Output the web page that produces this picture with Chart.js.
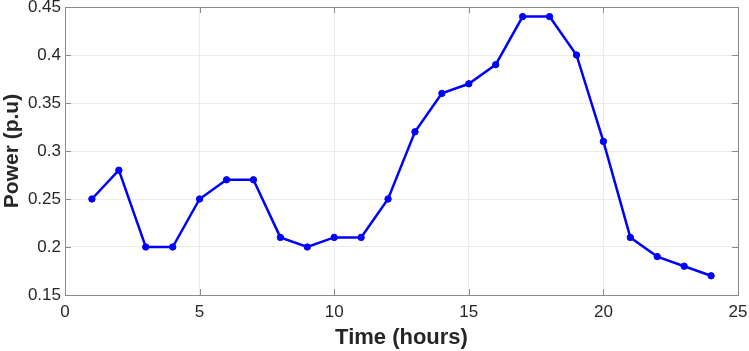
<!DOCTYPE html>
<html><head><meta charset="utf-8">
<script src="https://cdn.jsdelivr.net/npm/chart.js@4"></script>
<style>html,body{margin:0;padding:0;background:#fff}canvas{display:block}</style>
</head><body>
<canvas id="c" width="749" height="351"></canvas>
<script>
const hours = [1,2,3,4,5,6,7,8,9,10,11,12,13,14,15,16,17,18,19,20,21,22,23,24];
const power = [0.25,0.28,0.20,0.20,0.25,0.27,0.27,0.21,0.20,0.21,0.21,0.25,0.32,0.36,0.37,0.39,0.44,0.44,0.40,0.31,0.21,0.19,0.18,0.17];
const xTicks = [0,5,10,15,20,25];
const yTicks = [0.15,0.2,0.25,0.3,0.35,0.4,0.45];
const xTitle = 'Time (hours)';
const yTitle = 'Power (p.u)';

const boxPlugin = {
  id:'box',
  afterDraw(chart){
    const {ctx, chartArea:a, scales} = chart;
    ctx.save();
    ctx.strokeStyle = '#8a8a8a';
    ctx.lineWidth = 1;
    ctx.beginPath();
    xTicks.forEach(v=>{
      const px = Math.round(scales.x.getPixelForValue(v))+0.5;
      ctx.moveTo(px,a.bottom); ctx.lineTo(px,a.bottom-6);
      ctx.moveTo(px,a.top); ctx.lineTo(px,a.top+6);
    });
    yTicks.forEach(v=>{
      const py = Math.round(scales.y.getPixelForValue(v))+0.5;
      ctx.moveTo(a.left,py); ctx.lineTo(a.left+6,py);
      ctx.moveTo(a.right,py); ctx.lineTo(a.right-6,py);
    });
    ctx.stroke();
    ctx.strokeRect(Math.round(a.left)+0.5, Math.round(a.top)+0.5, Math.round(a.right-a.left), Math.round(a.bottom-a.top));
    ctx.restore();
  }
};

const tickFont = {family:'Liberation Sans, Arial', size:17};
const titleFont = {family:'Liberation Sans, Arial', size:21, weight:'bold'};

new Chart(document.getElementById('c'), {
  type:'line',
  data:{ datasets:[{
    data: hours.map((h,i)=>({x:h,y:power[i]})),
    borderColor:'#0000ff', backgroundColor:'#0000ff',
    borderWidth:2.5, pointRadius:3.2, pointBorderWidth:1, tension:0
  }]},
  options:{
    responsive:false, animation:false,
    layout:{padding:{left:0,right:11,top:7,bottom:0}},
    plugins:{legend:{display:false}, tooltip:{enabled:false}},
    scales:{
      x:{type:'linear', min:0, max:25,
        afterBuildTicks(s){ s.ticks = xTicks.map(v=>({value:v})); },
        afterFit(s){ s.height = 56; s.paddingLeft = 0; s.paddingRight = 0; },
        grid:{color:'#ebebeb', drawTicks:false},
        border:{display:false},
        ticks:{color:'#262626', font:tickFont, padding:7, maxRotation:0},
        title:{display:true, text:xTitle, color:'#262626', font:{...titleFont, size:22}, padding:{top:0,bottom:0}}
      },
      y:{type:'linear', min:0.15, max:0.45,
        afterBuildTicks(s){ s.ticks = yTicks.map(v=>({value:v})); },
        afterFit(s){ s.width = 65; s.paddingTop = 0; s.paddingBottom = 0; },
        grid:{color:'#ebebeb', drawTicks:false},
        border:{display:false},
        ticks:{color:'#262626', font:tickFont, padding:4, callback:v=>String(+v.toFixed(2))},
        title:{display:true, text:yTitle, color:'#262626', font:titleFont, padding:{top:0,bottom:0}}
      }
    }
  },
  plugins:[boxPlugin]
});
</script>
</body></html>
